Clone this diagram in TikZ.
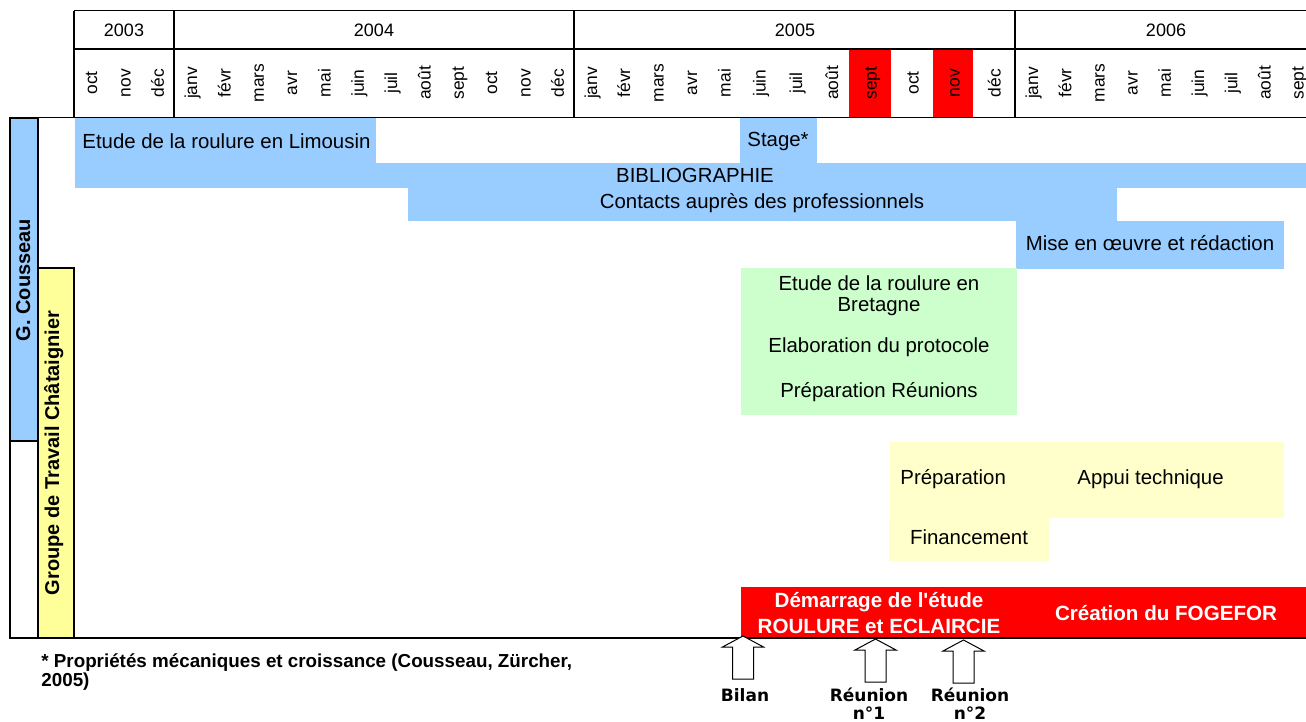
\documentclass[tikz,border=0pt]{standalone}
\usepackage{fontspec}
\setmainfont{Liberation Sans}[Ligatures=TeXOff]
\newfontfamily\markfont{DejaVu Sans}
\usepackage{tikz}
\definecolor{barblue}{HTML}{99CCFF}
\definecolor{bargreen}{HTML}{CCFFCC}
\definecolor{barpale}{HTML}{FFFFCC}
\definecolor{groupyellow}{HTML}{FFFF99}
\definecolor{eventred}{HTML}{FF0000}
\tikzset{bartext/.style={font=\fontsize{10.2}{12}\selectfont,inner sep=0pt}}
\tikzset{redtext/.style={font=\fontsize{10.3}{13}\selectfont\bfseries,text=white,inner sep=0pt,align=center}}
\tikzset{monthtext/.style={font=\fontsize{8.7}{10}\selectfont,inner sep=0pt,rotate=90,anchor=base}}
\tikzset{yeartext/.style={font=\fontsize{9}{11}\selectfont,inner sep=0pt}}
\tikzset{sidetext/.style={font=\fontsize{10}{12}\selectfont\bfseries,inner sep=0pt,rotate=90,anchor=base}}
\tikzset{marktext/.style={font=\markfont\bfseries\fontsize{8.5}{10.5}\selectfont,inner sep=0pt,anchor=base}}
\tikzset{notetext/.style={font=\fontsize{9.4}{11}\selectfont\bfseries,inner sep=0pt,anchor=base west}}
\tikzset{blockarrow/.style={draw,fill=white,line width=0.5pt}}

\begin{document}
\begin{tikzpicture}[x=0.5pt,y=-0.5pt]
			\useasboundingbox (0,0) rectangle (1306,722);
			% header
			\fill[eventred] (849,49) rectangle (891,118);
			\fill[eventred] (933,49) rectangle (973,118);
			\draw[line width=0.5pt] (74,11) -- (1306,11);
			\draw[line width=0.9pt] (74,49) -- (1306,49);
			\foreach \x in {74,174,574,1015}
				\draw[line width=1.3pt] (\x,11) -- (\x,118);
			\node (y2003) at (124,30) [yeartext] {2003};
			\node (y2004) at (374,30) [yeartext] {2004};
			\node (y2005) at (795,30) [yeartext] {2005};
			\node (y2006) at (1166,30) [yeartext] {2006};
			\foreach \m/\x [count=\i] in {oct/90.7,nov/124,déc/157.3,
				janv/190.7,févr/224,mars/257.3,avr/290.7,mai/324,juin/357.3,juil/390.7,août/424,sept/457.3,oct/490.7,nov/524,déc/557.3,
				janv/590.5,févr/623.5,mars/657,avr/690.5,mai/724,juin/759,juil/795.5,août/831.5,sept/870,oct/912,nov/953,déc/994,
				janv/1031.6,févr/1064.8,mars/1098,avr/1131.2,mai/1164.4,juin/1197.6,juil/1230.8,août/1264,sept/1297.2}
				\node (month\i) at (\x+6.5,83) [monthtext] {\m};
			% bars
			\fill[barblue] (75,118) rectangle (376,163);
			\fill[barblue] (740,118) rectangle (817,163);
			\fill[barblue] (75,163) rectangle (1306,188);
			\fill[barblue] (408,188) rectangle (1117,221);
			\fill[barblue] (1016,221) rectangle (1284,269);
			\fill[bargreen] (741,268) rectangle (1017,415);
			\fill[barpale] (890,442) rectangle (1284,518);
			\fill[barpale] (889,518) rectangle (1049,561);
			\fill[eventred] (741,587) rectangle (1306,638);
			\node (limousin) at (82,141) [bartext,anchor=west] {Etude de la roulure en Limousin};
			\node (stage) at (747,141) [bartext,anchor=west] {Stage*};
			\node (biblio) at (695,175) [bartext] {BIBLIOGRAPHIE};
			\node (contacts) at (762,203) [bartext] {Contacts auprès des professionnels};
			\node (redaction) at (1150,243) [bartext] {Mise en œuvre et rédaction};
			\node (bretagne1) at (879,283) [bartext] {Etude de la roulure en};
			\node (bretagne2) at (879,307) [bartext] {Bretagne};
			\node (protocole) at (879,347) [bartext] {Elaboration du protocole};
			\node (reunions) at (879,392) [bartext] {Préparation Réunions};
			\node (preparation) at (900,479) [bartext,anchor=west] {Préparation};
			\node (appui) at (1077,479) [bartext,anchor=west] {Appui technique};
			\node (financement) at (969,537) [bartext] {Financement};
			\node (demarrage) at (879,613) [redtext] {Démarrage de l'étude\\ROULURE et ECLAIRCIE};
			\node (fogefor) at (1166,613) [redtext] {Création du FOGEFOR};
			% side columns and frame
			\fill[barblue] (10,118) rectangle (38,441);
			\draw[line width=0.5pt] (38,118) -- (1306,118);
			\draw[line width=1.2pt] (10,118) rectangle (38,638);
			\draw[line width=1pt] (10,441) -- (38,441);
			\draw[line width=1.2pt,fill=groupyellow] (38,268) rectangle (74,638);
			\draw[line width=1.2pt] (10,638) -- (1306,638);
			\node (cousseau) at (30,280) [sidetext] {G. Cousseau};
			\node (groupe) at (59,453) [sidetext] {Groupe de Travail Châtaignier};
			% events
			\foreach \x/\t in {743/636,875.5/639,963.5/640}
				\draw[blockarrow] (\x,\t) -- ++(20.5,11) -- ++(-10,0) -- ++(0,32) -- ++(-21,0) -- ++(0,-32) -- ++(-10,0) -- cycle;
			\node (bilan) at (745,701) [marktext] {Bilan};
			\node (reunion1) at (869,701) [marktext] {Réunion};
			\node (numero1) at (869,719) [marktext] {n°1};
			\node (reunion2) at (970,701) [marktext] {Réunion};
			\node (numero2) at (970,719) [marktext] {n°2};
			\node (note1) at (41,667) [notetext] {* Propriétés mécaniques et croissance (Cousseau, Zürcher,};
			\node (note2) at (41,686) [notetext] {2005)};
		\end{tikzpicture}
\end{document}
